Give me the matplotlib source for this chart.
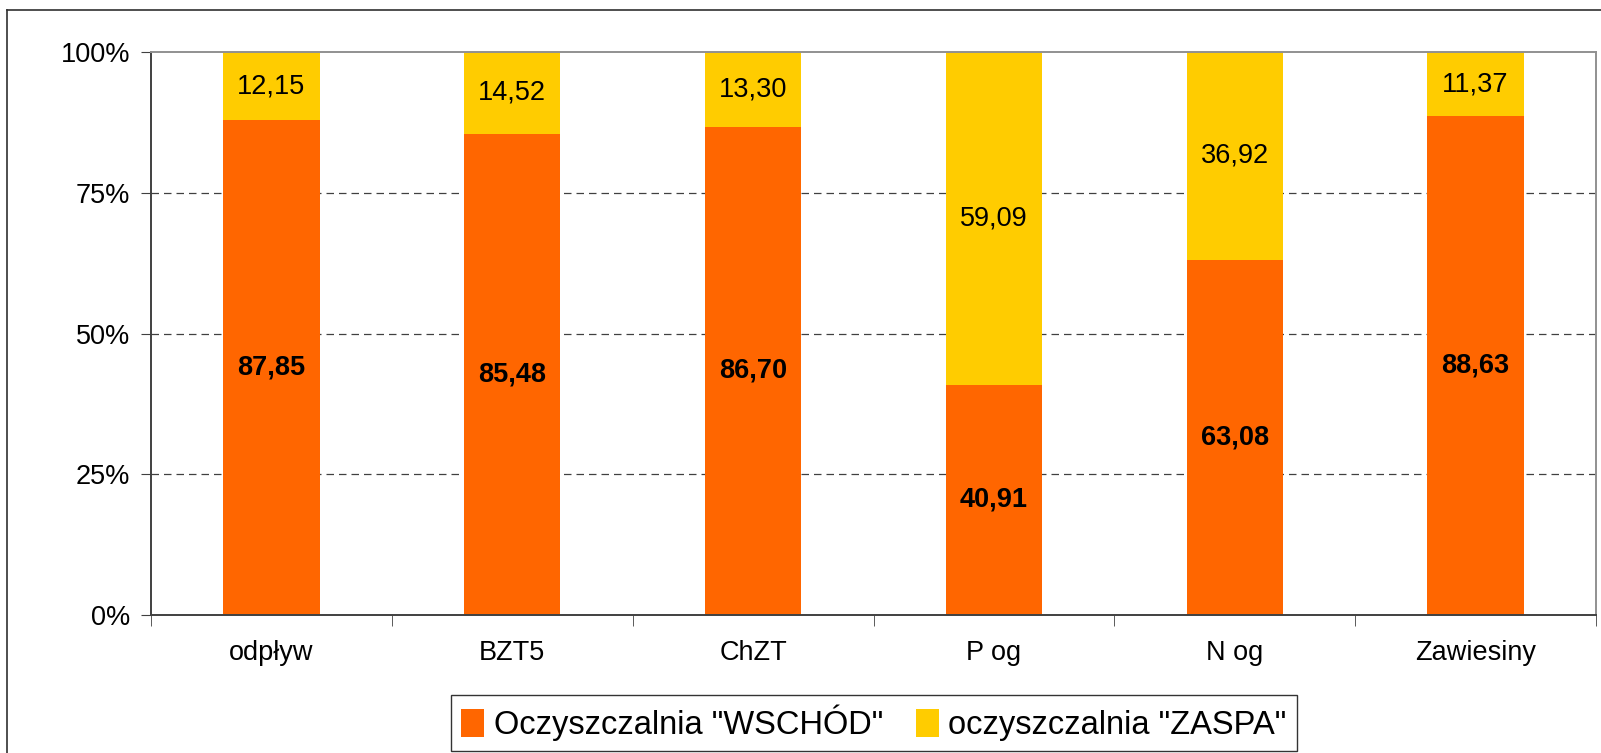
import matplotlib.pyplot as plt
from matplotlib.lines import Line2D
import numpy as np

plt.rcParams['font.family'] = ['Liberation Sans', 'DejaVu Sans']

categories = ['odpływ', 'BZT5', 'ChZT', 'P og', 'N og', 'Zawiesiny']
wschod = [87.85, 85.48, 86.70, 40.91, 63.08, 88.63]
zaspa = [12.15, 14.52, 13.30, 59.09, 36.92, 11.37]
labels_wschod = ['87,85', '85,48', '86,70', '40,91', '63,08', '88,63']
labels_zaspa = ['12,15', '14,52', '13,30', '59,09', '36,92', '11,37']

W, H = 1601, 753
fig = plt.figure(figsize=(W / 100, H / 100), dpi=100)
ax = fig.add_axes([151 / W, 1 - 615 / H, (1596 - 151) / W, (615 - 52) / H])

x = np.arange(len(categories))
b1 = ax.bar(x, wschod, width=0.4, color='#FF6600', label='Oczyszczalnia "WSCHÓD"')
b2 = ax.bar(x, zaspa, width=0.4, bottom=wschod, color='#FFCC00', label='oczyszczalnia "ZASPA"')

for i in range(len(categories)):
    ax.text(x[i], wschod[i] / 2, labels_wschod[i], ha='center', va='center',
            fontsize=19.5, fontweight='bold')
    ax.text(x[i], wschod[i] + zaspa[i] / 2, labels_zaspa[i], ha='center', va='center',
            fontsize=19.5)

ax.set_xlim(-0.5, len(categories) - 0.5)
ax.set_ylim(0, 100)
ax.set_yticks([0, 25, 50, 75, 100])
ax.set_yticklabels(['0%', '25%', '50%', '75%', '100%'], fontsize=19.5)
for y in [25, 50, 75]:
    ax.axhline(y, color='#404040', lw=0.9, ls=(0, (6, 4)), zorder=0)

ax.set_xticks(x)
ax.set_xticklabels(categories, fontsize=19.5)
ax.set_xticks(np.arange(-0.5, len(categories)), minor=True)
ax.tick_params(axis='x', which='major', length=0, pad=18)
ax.tick_params(axis='x', which='minor', length=8, color='#404040', direction='out')
ax.tick_params(axis='y', length=7, color='#404040', direction='out', pad=8)

ax.spines['left'].set_color('#404040')
ax.spines['bottom'].set_color('#404040')
ax.spines['top'].set_color('#909090')
ax.spines['right'].set_color('#909090')
for s in ax.spines.values():
    s.set_linewidth(1.4)

leg = fig.legend(handles=[b1, b2], loc='center', bbox_to_anchor=(874 / W, 1 - 723 / H),
                 ncol=2, fontsize=23.5, frameon=True, fancybox=False, edgecolor='black',
                 handlelength=0.7, handleheight=0.9, handletextpad=0.3, columnspacing=1.0,
                 borderpad=0.3)
leg.get_frame().set_linewidth(1.0)

# outer chart frame
fig.add_artist(Line2D([7 / W, 7 / W], [0, 1 - 10 / H], color='#303030', lw=1.2, transform=fig.transFigure))
fig.add_artist(Line2D([7 / W, 1], [1 - 10 / H, 1 - 10 / H], color='#303030', lw=1.2, transform=fig.transFigure))

fig.savefig('out.png', dpi=100)
